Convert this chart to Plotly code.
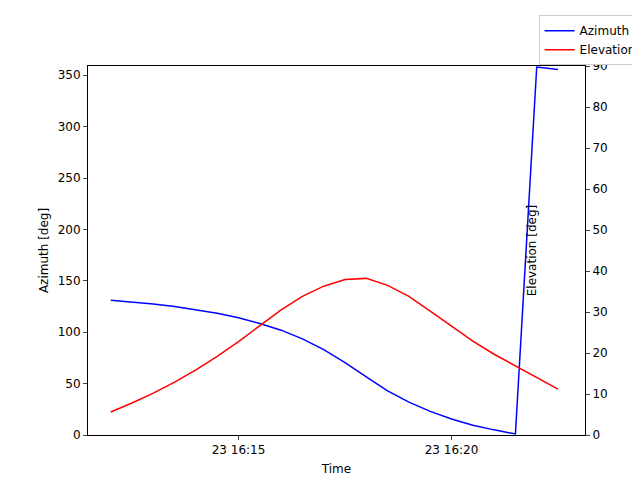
import plotly.graph_objects as go
import pandas as pd

times = pd.date_range("2024-01-23 16:12:00", periods=22, freq="30s")
azimuth = [131,129.5,127.5,125,122,118.5,114,108.5,102,93.5,83,70.5,56.5,43,32,23,15.5,9.5,5,1,358,355.5]
elevation = [5.6,7.8,10.2,12.9,15.9,19.2,22.8,26.6,30.5,33.8,36.3,37.9,38.2,36.5,33.8,30.2,26.5,22.9,19.7,16.8,13.9,11.2]

fig = go.Figure()
fig.add_trace(go.Scatter(x=times, y=azimuth, mode="lines", name="Azimuth", line=dict(color="blue", width=1.5)))
fig.add_trace(go.Scatter(x=times, y=elevation, mode="lines", name="Elevation", line=dict(color="red", width=1.5), yaxis="y2"))

ax = dict(showgrid=False, zeroline=False, showline=True, linecolor="black", mirror=True, ticks="outside", ticklen=4,
          tickfont=dict(size=12, color="black"), automargin=False)
fig.update_layout(
    width=640, height=480, plot_bgcolor="white", paper_bgcolor="white",
    font=dict(family="DejaVu Sans", size=12, color="black"),
    margin=dict(l=80, r=63, t=58, b=53, autoexpand=False),
    xaxis=dict(**ax, title=dict(text="Time", font=dict(size=12), standoff=8),
               range=[pd.Timestamp("2024-01-23 16:11:28"), pd.Timestamp("2024-01-23 16:23:08")],
               tickvals=[pd.Timestamp("2024-01-23 16:15"), pd.Timestamp("2024-01-23 16:20")],
               ticktext=["23 16:15", "23 16:20"]),
    yaxis=dict(**ax, title=dict(text="Azimuth [deg]", font=dict(size=12), standoff=6), range=[0, 359], dtick=50),
    yaxis2=dict(**ax, title=dict(text="Elevation [deg]", font=dict(size=12), standoff=6), range=[0, 90], dtick=10,
                overlaying="y", side="right"),
    legend=dict(x=0.99, y=0.985, xref="container", yref="container", xanchor="right", yanchor="top",
                bordercolor="#cccccc", borderwidth=1, bgcolor="white", font=dict(size=12),
                tracegroupgap=0, itemwidth=30),
)
fig.write_html("out.html")
